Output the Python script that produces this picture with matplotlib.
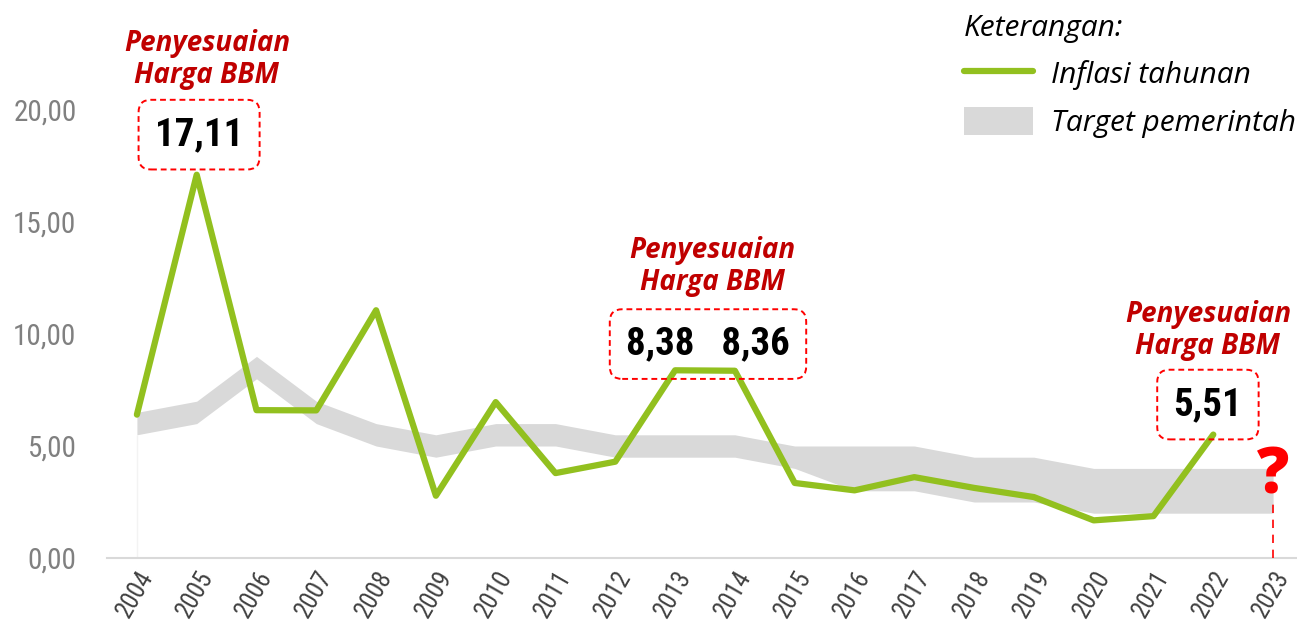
import matplotlib
matplotlib.use("Agg")
import matplotlib.pyplot as plt
from matplotlib.lines import Line2D
from matplotlib.patches import Patch


# Data
years = list(range(2004, 2024))
inflation_years = list(range(2004, 2023))
inflation = [6.40, 17.11, 6.60, 6.59, 11.06, 2.78, 6.96, 3.79, 4.30, 8.38,
             8.36, 3.35, 3.02, 3.61, 3.13, 2.72, 1.68, 1.87, 5.51]
target_low = [5.5, 6.0, 8.0, 6.0, 5.0, 4.5, 5.0, 5.0, 4.5, 4.5,
              4.5, 4.0, 3.0, 3.0, 2.5, 2.5, 2.0, 2.0, 2.0, 2.0]
target_high = [6.5, 7.0, 9.0, 7.0, 6.0, 5.5, 6.0, 6.0, 5.5, 5.5,
               5.5, 5.0, 5.0, 5.0, 4.5, 4.5, 4.0, 4.0, 4.0, 4.0]
y_ticks = [0, 5, 10, 15, 20]

# Fuel price adjustment notes: (x, y) of note text, (x, y) of value box, value text
note_label = "Penyesuaian\nHarga BBM"
note_pos = [(2005.17, 22.25), (2013.62, 13.0), (2021.91, 10.15)]
box_pos = [(2005.04, 18.9), (2013.55, 9.55), (2021.91, 6.85)]
box_text = ["17,11", "8,38   8,36", "5,51"]

GREEN = "#92C01F"
BAND = "#D9D9D9"
DARK_RED = "#C00000"

NARROW = ["Roboto Condensed", "Archivo Narrow", "DejaVu Sans"]
HUMANIST = ["Open Sans", "Noto Sans", "DejaVu Sans"]


def fmt_id(v):
  return f"{v:.2f}".replace(".", ",")


fig = plt.figure(figsize=(12.97, 6.3), dpi=100)
ax = fig.add_axes([107 / 1297, 72 / 630, 1 - 107 / 1297, 558 / 630])

# Government target band and actual inflation line
ax.fill_between(years, target_low, target_high, color=BAND, lw=0, zorder=1)
ax.vlines(years[0], 0, target_low[0], color="#F3F3F3", lw=1, zorder=1)
ax.plot(inflation_years, inflation, color=GREEN, lw=4.5,
        solid_capstyle="round", zorder=3)

ax.set_xlim(2003.5, 2003.5 + (1297 - 107) / 59.8)
ax.set_ylim(0, 558 / 22.4)

ax.set_yticks(y_ticks)
ax.set_yticklabels([fmt_id(v) for v in y_ticks], family=NARROW,
                   fontsize=21, color="#808080")
ax.set_xticks(years)
ax.set_xticklabels([str(y) for y in years], family=NARROW, fontsize=18,
                   color="#404040", rotation=60, ha="right",
                   rotation_mode="anchor")
ax.tick_params(axis="y", length=0, pad=22)
ax.tick_params(axis="x", length=0, pad=6)

for side in ["top", "right", "left"]:
  ax.spines[side].set_visible(False)
ax.spines["bottom"].set_color(BAND)
ax.spines["bottom"].set_linewidth(1.5)

# Notes about fuel price adjustments
for (nx, ny), (bx, by), txt in zip(note_pos, box_pos, box_text):
  ax.text(nx, ny, note_label, ha="center", va="center", family=HUMANIST,
          fontsize=20, fontweight="bold", fontstyle="italic",
          color=DARK_RED, linespacing=1.15, zorder=5)
  ax.text(bx, by, txt, ha="center", va="center", family=NARROW,
          fontsize=28, fontweight="bold", color="black", zorder=5,
          bbox=dict(boxstyle="round,pad=0.42,rounding_size=0.32",
                    fc="none", ec="#FF0000", lw=1.4, ls=(0, (3, 2))))

# 2023 still unknown
ax.vlines(years[-1], 0, 2.5, color="#FF0000", lw=1.2, linestyles=(0, (5, 4)),
          zorder=4)
ax.text(years[-1], 2.2, "?", ha="center", va="bottom", family=HUMANIST,
        fontsize=46, fontweight="heavy", color="#FF0000", zorder=5)

handles = [Line2D([], [], color=GREEN, lw=4.5, solid_capstyle="round"),
           Patch(color=BAND, lw=0)]
labels = ["Inflasi tahunan", "Target pemerintah"]
leg = ax.legend(handles, labels, title="Keterangan:", loc="upper left",
                bbox_to_anchor=(958 / 1297, 1 - 8 / 630),
                bbox_transform=fig.transFigure,
                frameon=False, alignment="left",
                prop=dict(family=HUMANIST, style="italic", size=21.5),
                title_fontproperties=dict(family=HUMANIST, style="italic", size=21.5),
                handlelength=2.3, handleheight=1.05, handletextpad=0.6,
                labelspacing=0.55, borderaxespad=0, borderpad=0.2)

fig.savefig("out.png", dpi=100)
